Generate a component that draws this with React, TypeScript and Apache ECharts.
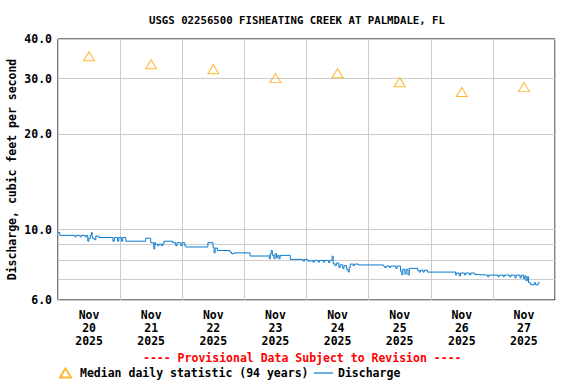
import React, { useEffect, useRef } from "react";
import * as echarts from "echarts";

const TITLE = "USGS 02256500 FISHEATING CREEK AT PALMDALE, FL";
const Y_NAME = "Discharge, cubic feet per second";
const PROVISIONAL = "---- Provisional Data Subject to Revision ----";
const MEDIAN_NAME = "Median daily statistic (94 years)";
const DISCHARGE_NAME = "Discharge";

const dayLabels = [
  "Nov\n20\n2025",
  "Nov\n21\n2025",
  "Nov\n22\n2025",
  "Nov\n23\n2025",
  "Nov\n24\n2025",
  "Nov\n25\n2025",
  "Nov\n26\n2025",
  "Nov\n27\n2025",
];

// hours since Nov 20 00:00
const medianHours = [12, 36, 60, 84, 108, 132, 156, 180];
const medianValues = [35.3, 33.3, 32.1, 30.1, 31.2, 29.2, 27.2, 28.2];

const yLabelValues = [6, 10, 20, 30, 40];
const yGridValues = [6, 7, 8, 9, 10, 20, 30, 40];

// [hour, discharge cfs] change points (step)
const dischargeSteps: [number, number][] = [
  [0, 9.8], [0.7, 9.6], [6.5, 9.5], [7.0, 9.6], [8.5, 9.5], [9.0, 9.6], [10.5, 9.5], [11.0, 9.6],
  [11.5, 9.2], [11.9, 9.4], [12.5, 9.6], [12.9, 9.8], [13.2, 9.6], [13.4, 9.4], [14.0, 9.3],
  [14.6, 9.55], [15.8, 9.45], [21.2, 9.2], [21.8, 9.45], [23.0, 9.2], [23.5, 9.45], [24.5, 9.2],
  [25.0, 9.45], [26.2, 9.2], [33.9, 9.4], [35.8, 9.1], [37.0, 8.7], [37.4, 9.1], [37.7, 9.0],
  [38.5, 8.9], [39.0, 9.0], [40.0, 8.9], [40.4, 9.0], [40.9, 9.2], [44.3, 9.1], [45.5, 8.9],
  [46.0, 9.1], [47.5, 8.9], [48.0, 9.1], [49.0, 8.9], [49.4, 8.82], [57.9, 9.1], [59.9, 8.8],
  [60.3, 8.45], [60.7, 8.75], [61.6, 8.6], [66.4, 8.5], [67.0, 8.4], [68.0, 8.45], [74.2, 8.26],
  [81.2, 8.3], [81.6, 8.1], [82.0, 8.4], [82.4, 8.6], [82.8, 8.3], [83.4, 8.1], [83.8, 8.4],
  [84.4, 8.15], [84.9, 8.3], [85.4, 8.1], [85.8, 8.3], [89.7, 8.06], [94.7, 7.96], [95.2, 8.06],
  [96.5, 7.96], [97.4, 8.0], [98.5, 7.9], [99.0, 8.0], [100.5, 7.9], [101.0, 8.0], [102.5, 7.9],
  [103.0, 8.0], [104.5, 7.88], [105.0, 8.0], [105.9, 8.25], [106.3, 7.8], [107.0, 7.7],
  [107.5, 7.85], [108.5, 7.6], [109.0, 7.75], [110.0, 7.55], [110.5, 7.7], [111.5, 7.5],
  [112.1, 7.35], [112.5, 7.6], [112.9, 7.79], [114.0, 7.7], [114.5, 7.79], [116.0, 7.74],
  [125.7, 7.68], [126.2, 7.6], [126.8, 7.68], [128.0, 7.6], [128.5, 7.68], [130.5, 7.55],
  [131.0, 7.68], [132.3, 7.4], [132.8, 7.2], [133.2, 7.5], [134.0, 7.25], [134.5, 7.5],
  [135.2, 7.2], [135.7, 7.55], [138.9, 7.45], [139.5, 7.35], [140.0, 7.45], [141.0, 7.35],
  [141.5, 7.45], [142.7, 7.35], [153.6, 7.2], [154.0, 7.3], [155.0, 7.15], [155.5, 7.3],
  [157.0, 7.2], [157.5, 7.3], [159.0, 7.2], [159.5, 7.3], [161.0, 7.22], [162.5, 7.19],
  [166.0, 7.1], [166.4, 7.19], [170.0, 7.1], [170.4, 7.19], [172.0, 7.1], [172.4, 7.19],
  [174.5, 7.1], [175.0, 7.19], [176.5, 7.05], [177.0, 7.19], [178.5, 7.05], [179.0, 7.19],
  [179.9, 7.0], [180.3, 7.15], [180.8, 6.9], [181.3, 7.1], [181.8, 6.8], [182.6, 6.7],
  [184.0, 6.8], [184.5, 6.7], [185.5, 6.8], [186.1, 6.8],
];

const FONT = "DejaVu Sans Mono";
const txt = { fontFamily: FONT, fontWeight: "bold" as const, color: "#000", fontSize: 11.5 };

export default function App() {
  const ref = useRef<HTMLDivElement>(null);
  useEffect(() => {
    document.body.style.margin = "0";
    if (!ref.current) return;
    const chart = echarts.init(ref.current, undefined, { renderer: "svg" });
    chart.setOption({
      animation: false,
      backgroundColor: "#fff",
      title: {
        text: TITLE,
        left: 144,
        top: 10,
        textStyle: { ...txt, fontSize: 10.7 },
      },
      grid: {
        left: 58,
        top: 39,
        right: 21,
        bottom: 84,
        outerBoundsMode: "none",
        containLabel: false,
        show: true,
        borderColor: "#000",
        borderWidth: 1,
        backgroundColor: "transparent",
      },
      xAxis: [
        {
          type: "value",
          min: 0,
          max: 192,
          interval: 24,
          axisLine: { show: false },
          axisTick: { show: false },
          axisLabel: { show: false },
          splitLine: { show: true, lineStyle: { color: "#cccccc", width: 1 } },
        },
        {
          type: "category",
          data: dayLabels,
          boundaryGap: true,
          position: "bottom",
          axisLine: { show: false },
          axisTick: { show: false },
          splitLine: { show: false },
          axisLabel: { ...txt, lineHeight: 13, margin: 8, interval: 0 },
        },
      ],
      yAxis: {
        type: "log",
        logBase: 10,
        min: 6,
        max: 40,
        axisLine: { show: false },
        axisTick: { show: false, customValues: yGridValues },
        axisLabel: {
          ...txt,
          margin: 6,
          customValues: yLabelValues,
          formatter: (v: number) => Number(v).toFixed(1),
        },
        splitLine: { show: true, lineStyle: { color: "#cccccc", width: 1 } },
        name: Y_NAME,
        nameLocation: "middle",
        nameGap: 40,
        nameMoveOverlap: false,
        nameTextStyle: { ...txt },
      },
      legend: [
        {
          data: [MEDIAN_NAME],
          left: 54,
          top: 362,
          itemWidth: 11,
          itemHeight: 9,
          itemGap: 0,
          textStyle: { ...txt, padding: [0, 0, 0, 4] },
        },
        {
          data: [{ name: DISCHARGE_NAME, icon: "rect" }],
          left: 309,
          top: 362,
          itemWidth: 19,
          itemHeight: 1.2,
          itemGap: 0,
          textStyle: { ...txt },
        },
      ],
      graphic: [
        {
          type: "text",
          left: 143,
          top: 352,
          style: {
            text: PROVISIONAL,
            fill: "#ff0000",
            font: `bold 11.5px "${FONT}"`,
          },
        },
      ],
      series: [
        {
          name: MEDIAN_NAME,
          type: "scatter",
          xAxisIndex: 0,
          symbol: "triangle",
          symbolSize: [11, 9],
          itemStyle: { color: "rgba(255,255,255,0)", borderColor: "#FFA500", borderWidth: 1 },
          data: medianHours.map((h, i) => [h, medianValues[i]]),
          z: 3,
        },
        {
          name: DISCHARGE_NAME,
          type: "line",
          xAxisIndex: 0,
          step: "end",
          symbol: "none",
          showSymbol: false,
          lineStyle: { color: "#0A7ACC", width: 1 },
          itemStyle: { color: "#0A7ACC" },
          data: dischargeSteps,
          z: 2,
        },
      ],
    });
    return () => chart.dispose();
  }, []);
  return <div ref={ref} style={{ width: 576, height: 384 }} />;
}
